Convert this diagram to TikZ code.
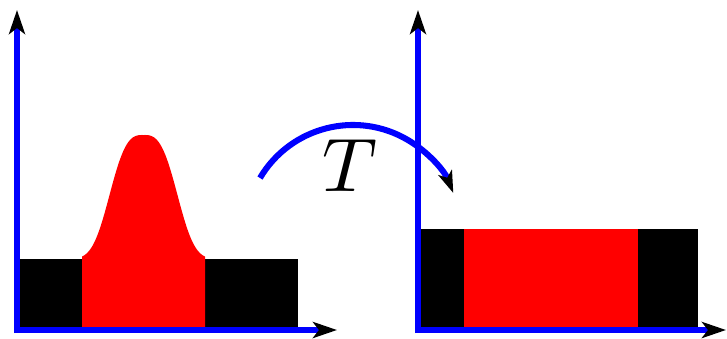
\documentclass[tikz,border=0pt]{standalone}
\usepackage{amsmath}
\usetikzlibrary{arrows.meta,positioning,calc}
\definecolor{AxisBlue}{RGB}{0,0,255}
\definecolor{MassRed}{RGB}{255,0,0}
\tikzset{
  axis/.style={draw=AxisBlue, line width=4.3pt, -{Stealth[length=0.6cm, width=0.4cm, inset=0.15cm, color=black]}},
  maparr/.style={draw=AxisBlue, line width=4.3pt, -{Stealth[length=0.55cm, width=0.36cm, inset=0.14cm, color=black]}},
  blackmass/.style={fill=black, draw=none},
  redmass/.style={fill=MassRed, draw=none}
}

\begin{document}
\begin{tikzpicture}[x=0.025cm, y=-0.025cm]
\useasboundingbox (0,0) rectangle (727,338);
% source measure
\fill[blackmass] (20,259) rectangle (298,327);
\fill[redmass] (82,327) -- (82,259)
  -- plot[domain=82:205, samples=120, smooth] ({\x},{259-124*exp(-(abs(\x-143.5)/39)^3)})
  -- (205,327) -- cycle;
% target measure
\fill[blackmass] (421,229) rectangle (698,327);
\fill[redmass] (464,229) rectangle (638,327);
% axes
\coordinate (srcy) at (17,333);
\coordinate (srcytip) at (17,10);
\coordinate (srcx) at (14,330);
\coordinate (srcxtip) at (337,330);
\coordinate (tgty) at (418,333);
\coordinate (tgtytip) at (418,10);
\coordinate (tgtx) at (415,330);
\coordinate (tgtxtip) at (726,330);
\draw[axis] (srcy) -- (srcytip);
\draw[axis] (srcx) -- (srcxtip);
\draw[axis] (tgty) -- (tgtytip);
\draw[axis] (tgtx) -- (tgtxtip);
% the map
\coordinate (tstart) at (260,178);
\draw[maparr] (tstart) arc[start angle=210.6, end angle=338.3, radius=108];
\node[inner sep=0pt, scale=5.4] (tlabel) at (350,166) {$T$};
\end{tikzpicture}
\end{document}
